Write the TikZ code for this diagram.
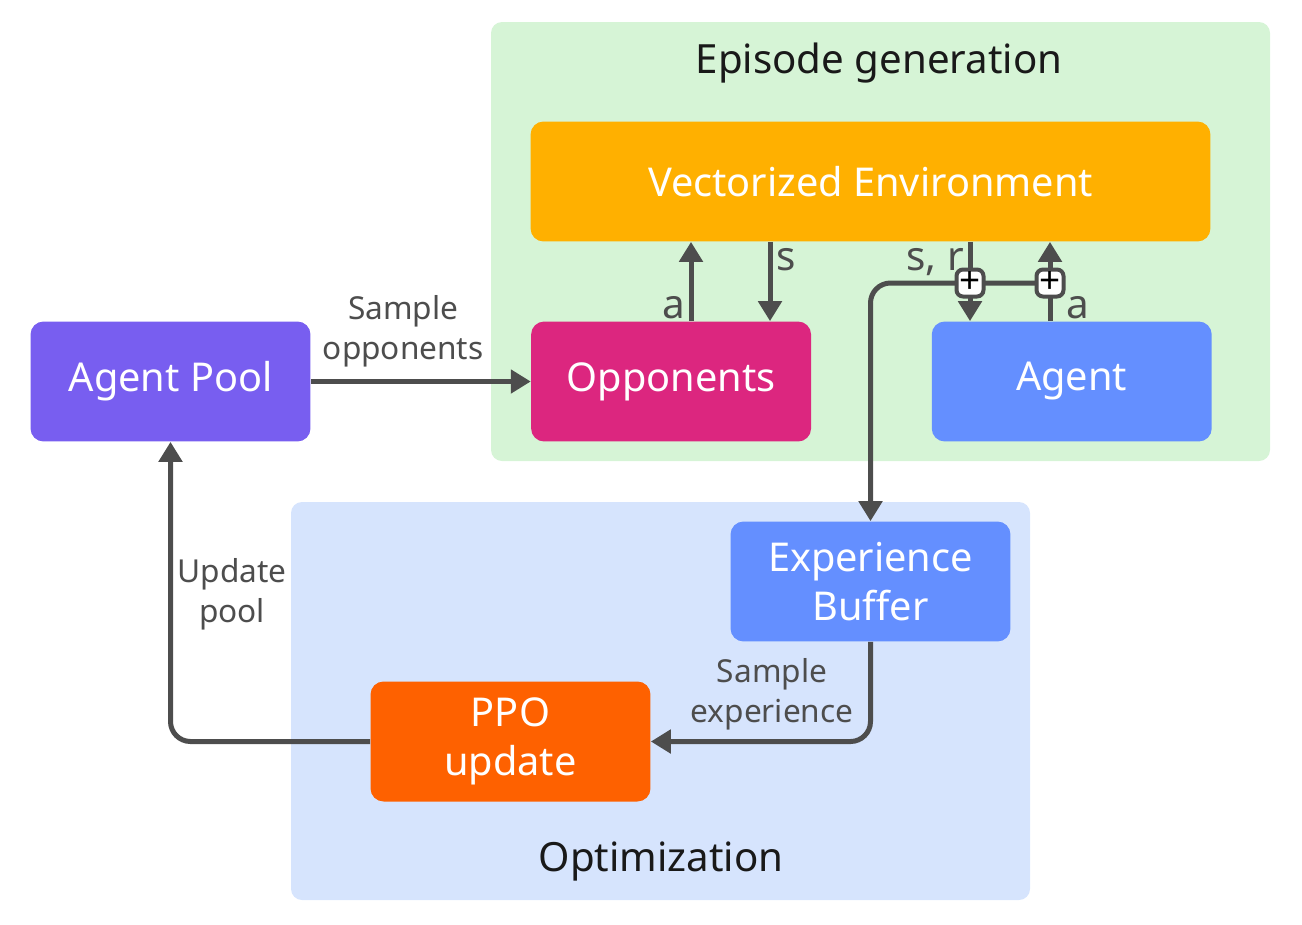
\documentclass[tikz,border=0pt]{standalone}
\usepackage{fontspec}
\setmainfont{Noto Sans}
\usetikzlibrary{positioning}
\usetikzlibrary{backgrounds}
\usetikzlibrary{arrows.meta}
\definecolor{poolc}{HTML}{785EF0}
\definecolor{oppc}{HTML}{DC267F}
\definecolor{envc}{HTML}{FFB000}
\definecolor{agentc}{HTML}{648FFF}
\definecolor{ppoc}{HTML}{FE6100}
\definecolor{greenbg}{HTML}{D6F4D6}
\definecolor{bluebg}{HTML}{D6E4FD}
\definecolor{linec}{HTML}{4D4D4D}

\begin{document}
\begin{tikzpicture}[x=0.02cm, y=-0.02cm, node distance=2.4cm,
    >={Triangle[length=0.4cm, width=0.46cm]},
    block/.style={rectangle, rounded corners=0.26cm, minimum width=5.6cm, minimum height=2.4cm,
      text=white, align=center, font=\fontsize{22.6}{28}\selectfont},
    flow/.style={draw=linec, line width=0.1cm, rounded corners=0.4cm},
    lbl/.style={text=linec, align=center, font=\fontsize{18}{22.7}\selectfont, inner sep=1pt},
    sym/.style={text=linec, font=\fontsize{23}{26}\selectfont, inner sep=2pt},
    region/.style={rounded corners=0.22cm},
    title/.style={text=black!90, font=\fontsize{22.9}{26}\selectfont},
    junction/.style={rectangle, rounded corners=0.13cm, draw=linec, line width=0.08cm, fill=white,
      minimum size=0.54cm, inner sep=0pt, font=\fontsize{21}{21}\selectfont\bfseries}]
  \useasboundingbox (0,0) rectangle (1302,924);

  \node[block, fill=poolc]  (pool)  at (170.5,381.5)      {Agent Pool};
  \node[block, fill=oppc]   (opp)   [right=4.4cm of pool] {Opponents};
  \node[block, fill=agentc] (agent) [right=of opp]        {Agent};
  \node[block, fill=envc, minimum width=13.6cm]
                            (env)   at (870.5,181.5)      {Vectorized Environment};
  \node[block, fill=agentc] (buf)   at (870.5,581.5)      {Experience\\Buffer};
  \node[block, fill=ppoc]   (ppo)   at (510.5,741.5)      {PPO\\update};

  \node[title] (tgen) at (879,63)  {Episode generation};
  \node[title] (topt) at (661,861) {Optimization};

  \coordinate (oa) at (691,283);
  \coordinate (os) at (770,283);
  \coordinate (j1) at (970,283);
  \coordinate (j2) at (1050,283);

  % opponents <-> environment
  \draw[flow, ->] (opp.north -| oa) -- (env.south -| oa) node[sym, pos=0.17, left] {a};
  \draw[flow, ->] (env.south -| os) -- (opp.north -| os) node[sym, pos=0.23, right] {s};
  % agent <-> environment
  \draw[flow, ->] (env.south -| j1) -- (agent.north -| j1) node[sym, pos=0.25, left] {s, r};
  \draw[flow, ->] (agent.north -| j2) -- (env.south -| j2) node[sym, pos=0.17, right=0.2cm] {a};
  \draw[flow, ->] (j2) -- (j1) -- (j1 -| buf) -- (buf.north);
  \node[junction] (p1) at (j1) {+};
  \node[junction] (p2) at (j2) {+};

  \draw[flow, ->] (pool) -- (opp) node[lbl, pos=0.42, above=0.2cm] {Sample\\opponents};
  \draw[flow, ->] (buf.south) |- (ppo.east);
  \node[lbl] (lexp) at (772,694) {Sample\\experience};
  \draw[flow, ->] (ppo.west) -| (pool.south);
  \node[lbl] (lupd) at (232,594) {Update\\pool};

  \begin{scope}[on background layer]
    \fill[greenbg, region] (491,22) rectangle (1270,461);
    \fill[bluebg, region]  (291,502) rectangle (1030,900);
  \end{scope}
\end{tikzpicture}
\end{document}
